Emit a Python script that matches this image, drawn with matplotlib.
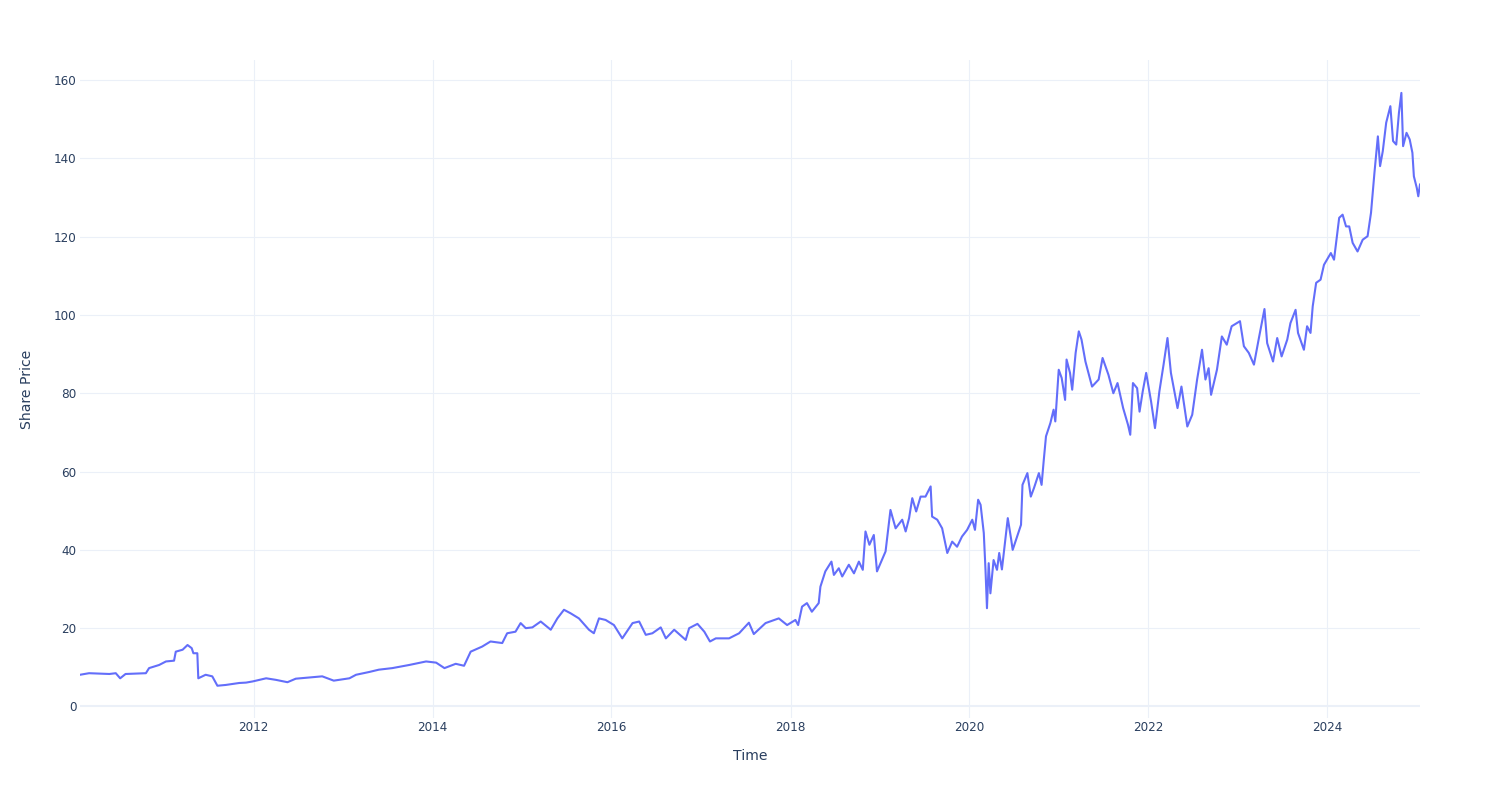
import matplotlib
matplotlib.use("Agg")
import matplotlib.pyplot as plt
import matplotlib.dates as mdates
import pandas as pd

dates = [
    "2010-01-22", "2010-02-28", "2010-05-22", "2010-06-17", "2010-07-05", "2010-07-27",
    "2010-10-18", "2010-10-31", "2010-12-11", "2011-01-08", "2011-02-10", "2011-02-17",
    "2011-03-17", "2011-04-06", "2011-04-23", "2011-04-30", "2011-05-16", "2011-05-20",
    "2011-06-19", "2011-07-16", "2011-08-06", "2011-09-09", "2011-11-03", "2011-12-01",
    "2011-12-28", "2012-02-21", "2012-04-01", "2012-05-18", "2012-06-21", "2012-10-07",
    "2012-11-23", "2013-01-26", "2013-02-22", "2013-04-16", "2013-05-26", "2013-07-20",
    "2013-09-27", "2013-12-05", "2014-01-15", "2014-02-18", "2014-04-05", "2014-05-09",
    "2014-06-05", "2014-07-22", "2014-08-25", "2014-10-12", "2014-11-01", "2014-12-05",
    "2014-12-26", "2015-01-16", "2015-02-12", "2015-03-18", "2015-04-28", "2015-05-25",
    "2015-06-21", "2015-07-18", "2015-08-21", "2015-10-01", "2015-10-21", "2015-11-11",
    "2015-12-08", "2016-01-11", "2016-02-14", "2016-03-27", "2016-04-23", "2016-05-20",
    "2016-06-16", "2016-07-20", "2016-08-10", "2016-09-13", "2016-10-30", "2016-11-13",
    "2016-12-17", "2017-01-14", "2017-02-06", "2017-03-02", "2017-04-25", "2017-06-05",
    "2017-07-15", "2017-08-04", "2017-09-21", "2017-11-14", "2017-12-18", "2018-01-21",
    "2018-02-01", "2018-02-17", "2018-03-09", "2018-03-29", "2018-04-26", "2018-05-03",
    "2018-05-23", "2018-06-17", "2018-06-27", "2018-07-17", "2018-07-31", "2018-08-27",
    "2018-09-17", "2018-10-07", "2018-10-23", "2018-11-03", "2018-11-19", "2018-12-07",
    "2018-12-20", "2019-01-24", "2019-02-13", "2019-03-06", "2019-04-02", "2019-04-16",
    "2019-04-30", "2019-05-13", "2019-05-29", "2019-06-16", "2019-07-06", "2019-07-27",
    "2019-08-02", "2019-08-23", "2019-09-12", "2019-10-03", "2019-10-23", "2019-11-12",
    "2019-12-02", "2019-12-23", "2020-01-13", "2020-01-24", "2020-02-06", "2020-02-16",
    "2020-02-29", "2020-03-07", "2020-03-13", "2020-03-20", "2020-03-27", "2020-04-09",
    "2020-04-23", "2020-05-02", "2020-05-13", "2020-06-06", "2020-06-20", "2020-06-26",
    "2020-07-10", "2020-07-30", "2020-08-05", "2020-08-25", "2020-09-08", "2020-09-21",
    "2020-10-11", "2020-10-22", "2020-10-31", "2020-11-09", "2020-11-27", "2020-12-10",
    "2020-12-17", "2020-12-31", "2021-01-12", "2021-01-26", "2021-02-01", "2021-02-15",
    "2021-02-24", "2021-03-10", "2021-03-23", "2021-04-03", "2021-04-19", "2021-05-16",
    "2021-06-12", "2021-06-28", "2021-07-22", "2021-08-11", "2021-08-28", "2021-09-20",
    "2021-10-10", "2021-10-19", "2021-10-30", "2021-11-16", "2021-11-26", "2021-12-09",
    "2021-12-23", "2022-01-12", "2022-01-28", "2022-02-15", "2022-03-04", "2022-03-20",
    "2022-04-03", "2022-04-30", "2022-05-16", "2022-06-09", "2022-06-29", "2022-07-19",
    "2022-08-08", "2022-08-22", "2022-09-04", "2022-09-14", "2022-10-08", "2022-10-28",
    "2022-11-17", "2022-12-07", "2023-01-10", "2023-01-26", "2023-02-15", "2023-03-08",
    "2023-03-28", "2023-04-20", "2023-05-01", "2023-05-25", "2023-06-11", "2023-06-29",
    "2023-07-22", "2023-08-04", "2023-08-25", "2023-09-04", "2023-09-28", "2023-10-11",
    "2023-10-25", "2023-11-03", "2023-11-17", "2023-12-05", "2023-12-19", "2024-01-16",
    "2024-01-29", "2024-02-19", "2024-03-04", "2024-03-18", "2024-03-31", "2024-04-14",
    "2024-05-04", "2024-05-25", "2024-06-14", "2024-06-28", "2024-07-12", "2024-07-26",
    "2024-08-04", "2024-08-15", "2024-08-29", "2024-09-15", "2024-09-26", "2024-10-09",
    "2024-10-20", "2024-10-30", "2024-11-06", "2024-11-20", "2024-12-03", "2024-12-14",
    "2024-12-20", "2025-01-01", "2025-01-07", "2025-01-14",
]

prices = [
    8.1, 8.5, 8.3, 8.5, 7.2, 8.3,
    8.5, 9.8, 10.6, 11.5, 11.7, 14.0,
    14.5, 15.7, 14.9, 13.6, 13.6, 7.2,
    8.1, 7.7, 5.3, 5.5, 6.0, 6.1,
    6.4, 7.2, 6.8, 6.2, 7.1, 7.7,
    6.6, 7.2, 8.1, 8.8, 9.4, 9.8,
    10.6, 11.5, 11.2, 9.8, 10.9, 10.4,
    14.0, 15.3, 16.6, 16.2, 18.7, 19.1,
    21.3, 20.0, 20.2, 21.7, 19.6, 22.5,
    24.7, 23.8, 22.5, 19.6, 18.7, 22.5,
    22.1, 20.8, 17.4, 21.3, 21.7, 18.3,
    18.7, 20.2, 17.4, 19.6, 17.0, 20.0,
    21.1, 19.1, 16.6, 17.4, 17.4, 18.7,
    21.4, 18.5, 21.3, 22.5, 20.8, 22.1,
    20.8, 25.5, 26.4, 24.2, 26.4, 30.6,
    34.5, 37.0, 33.6, 35.3, 33.2, 36.2,
    34.0, 37.0, 34.9, 44.7, 41.3, 43.8,
    34.5, 39.6, 50.2, 45.5, 47.7, 44.7,
    48.1, 53.2, 49.8, 53.6, 53.6, 56.2,
    48.5, 47.7, 45.5, 39.2, 42.1, 40.8,
    43.4, 45.1, 47.7, 45.1, 52.8, 51.5,
    44.3, 34.9, 25.1, 36.6, 28.9, 37.4,
    34.9, 39.2, 35.0, 48.1, 42.6, 40.0,
    42.6, 46.4, 56.6, 59.6, 53.6, 55.8,
    59.6, 56.6, 63.0, 69.0, 72.4, 75.8,
    72.8, 86.0, 83.9, 78.3, 88.6, 85.2,
    80.9, 90.3, 95.8, 93.7, 88.1, 81.7,
    83.5, 89.0, 84.7, 80.0, 82.6, 76.2,
    71.9, 69.4, 82.6, 81.3, 75.3, 80.5,
    85.2, 77.9, 71.1, 80.5, 87.3, 94.1,
    85.2, 76.2, 81.7, 71.5, 74.5, 83.5,
    91.1, 83.5, 86.4, 79.6, 86.0, 94.5,
    92.4, 97.1, 98.4, 92.0, 90.3, 87.3,
    94.0, 101.5, 92.8, 88.1, 94.1, 89.4,
    93.7, 97.9, 101.3, 95.4, 91.1, 97.1,
    95.4, 102.2, 108.2, 109.0, 112.8, 115.8,
    114.1, 124.8, 125.6, 122.6, 122.6, 118.4,
    116.2, 119.2, 120.1, 126.1, 136.3, 145.6,
    138.0, 141.8, 149.1, 153.3, 144.4, 143.5,
    151.6, 156.7, 143.1, 146.5, 144.8, 141.4,
    135.4, 132.4, 130.3, 133.3,
]

y_ticks = [0, 20, 40, 60, 80, 100, 120, 140, 160]
x_tick_years = [2012, 2014, 2016, 2018, 2020, 2022, 2024]
x_title = "Time"
y_title = "Share Price"

LINE = "#636efa"
GRID = "#ebf0f8"
TEXT = "#2a3f5f"

plt.rcParams["font.family"] = ["DejaVu Sans"]

x = pd.to_datetime(dates)

fig = plt.figure(figsize=(15, 8), dpi=100)
fig.patch.set_facecolor("white")
ax = fig.add_axes([80 / 1500, 1 - 718 / 800, 1340 / 1500, 658 / 800])
ax.set_facecolor("white")

for yv in y_ticks:
    ax.axhline(yv, color=GRID, lw=1.5 if yv == 0 else 0.8, zorder=1)
xt = [pd.Timestamp(f"{yr}-01-01") for yr in x_tick_years]
for t in xt:
    ax.axvline(t, color=GRID, lw=0.8, zorder=1)

ax.plot(x, prices, color=LINE, lw=1.5, zorder=3, solid_joinstyle="round")

ax.set_xlim(x[0], x[-1])
ax.set_ylim(-2.94, 165.1)
ax.set_yticks(y_ticks)
ax.set_yticklabels([str(v) for v in y_ticks])
ax.set_xticks(xt)
ax.set_xticklabels([str(yr) for yr in x_tick_years])

for s in ax.spines.values():
    s.set_visible(False)
ax.tick_params(axis="both", length=0, labelsize=8.64, labelcolor=TEXT)
ax.tick_params(axis="y", pad=2.5)
ax.tick_params(axis="x", pad=2.5)

fig.text(27 / 1500, 1 - 389 / 800, y_title, rotation=90, ha="center", va="center",
         fontsize=10.08, color=TEXT)
fig.text(750 / 1500, 1 - 756 / 800, x_title, ha="center", va="center",
         fontsize=10.08, color=TEXT)

fig.savefig("out.png", dpi=100, facecolor="white")
